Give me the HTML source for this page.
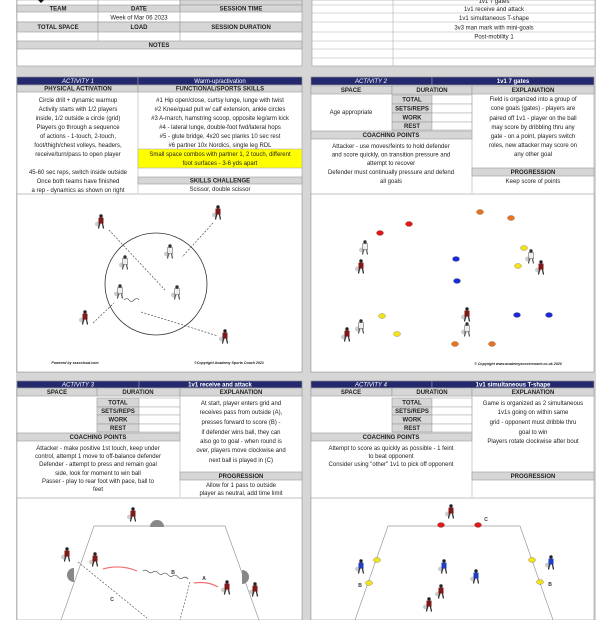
<!DOCTYPE html>
<html><head><meta charset="utf-8"><style>
html,body{margin:0;padding:0;background:#fff;}
svg{display:block;font-family:"Liberation Sans",sans-serif;}
.t{font-size:6px;fill:#222;text-anchor:middle;}
.h{font-size:6px;font-weight:bold;fill:#222;text-anchor:middle;}
.n{font-size:6px;font-style:italic;fill:#fff;text-anchor:middle;}
.g{fill:#d6d6d6;stroke:#9a9a9a;stroke-width:0.6;}
.w{fill:#fff;stroke:#b0b0b0;stroke-width:0.6;}
.nv{fill:#24296e;stroke:#9a9a9a;stroke-width:0.6;}
.cap{font-size:3.6px;font-style:italic;font-weight:bold;fill:#222;text-anchor:middle;}
.lb{font-size:5px;font-weight:bold;fill:#333;text-anchor:middle;}
</style></head><body>
<svg width="612" height="620" viewBox="0 0 612 620">
<defs>
<g id="pr"><ellipse cx="-3" cy="2" rx="3" ry="2.5" fill="#ccc"/><circle cx="0" cy="-6" r="1.7" fill="#222"/><rect x="-2.5" y="-4.4" width="5" height="6" fill="#7d1a1a"/><line x1="-1.5" y1="1.5" x2="-2.5" y2="6.5" stroke="#222" stroke-width="1.2"/><line x1="1.5" y1="1.5" x2="2.5" y2="6.5" stroke="#222" stroke-width="1.2"/></g>
<g id="pw"><ellipse cx="-3" cy="2" rx="3" ry="2.5" fill="#ccc"/><circle cx="0" cy="-6" r="1.7" fill="#333"/><rect x="-2.5" y="-4.4" width="5" height="6" fill="#eee" stroke="#555" stroke-width="0.5"/><line x1="-1.5" y1="1.5" x2="-2.5" y2="6.5" stroke="#444" stroke-width="1.1"/><line x1="1.5" y1="1.5" x2="2.5" y2="6.5" stroke="#444" stroke-width="1.1"/></g>
<g id="pb"><ellipse cx="-3" cy="2" rx="3" ry="2.5" fill="#ccc"/><circle cx="0" cy="-6" r="1.7" fill="#222"/><rect x="-2.5" y="-4.4" width="5" height="6" fill="#1f3fbf"/><line x1="-1.5" y1="1.5" x2="-2.5" y2="6.5" stroke="#222" stroke-width="1.2"/><line x1="1.5" y1="1.5" x2="2.5" y2="6.5" stroke="#222" stroke-width="1.2"/></g>
</defs>
<rect x="16" y="0" width="580" height="620" fill="#d6d6d6"/>

<!-- TOP LEFT -->
<rect x="17" y="0" width="285" height="66" fill="#fff" stroke="#9a9a9a" stroke-width="0.6"/>
<rect x="180" y="0" width="122" height="5" class="g"/>
<line x1="98" y1="0" x2="98" y2="41" stroke="#9a9a9a" stroke-width="0.6"/>
<line x1="180" y1="0" x2="180" y2="41" stroke="#9a9a9a" stroke-width="0.6"/>
<path d="M38 0 L44 0 L41 3 Z" fill="#111"/>
<rect x="17" y="5" width="81" height="7" class="g"/><rect x="98" y="5" width="82" height="7" class="g"/><rect x="180" y="5" width="122" height="7" class="g"/>
<text class="h" x="58" y="10.5">TEAM</text><text class="h" x="139" y="10.5">DATE</text><text class="h" x="241" y="10.5">SESSION TIME</text>
<line x1="17" y1="22" x2="302" y2="22" stroke="#9a9a9a" stroke-width="0.6"/>
<text class="t" x="139" y="19.5">Week of Mar 06 2023</text>
<rect x="17" y="22" width="81" height="10" class="g"/><rect x="98" y="22" width="82" height="10" class="g"/><rect x="180" y="22" width="122" height="10" class="g"/>
<text class="h" x="58" y="29">TOTAL SPACE</text><text class="h" x="139" y="29">LOAD</text><text class="h" x="241" y="29">SESSION DURATION</text>
<rect x="17" y="41" width="285" height="8" class="g"/>
<text class="h" x="159" y="47">NOTES</text>

<!-- TOP RIGHT -->
<rect x="312" y="0" width="283" height="66" fill="#fff" stroke="#9a9a9a" stroke-width="0.6"/>
<line x1="393" y1="0" x2="393" y2="66" stroke="#b0b0b0" stroke-width="0.6"/>
<g stroke="#b0b0b0" stroke-width="0.6"><line x1="312" y1="5" x2="595" y2="5"/><line x1="312" y1="13" x2="595" y2="13"/><line x1="312" y1="22" x2="595" y2="22"/><line x1="312" y1="32" x2="595" y2="32"/><line x1="312" y1="41" x2="595" y2="41"/><line x1="312" y1="49" x2="595" y2="49"/><line x1="312" y1="58" x2="595" y2="58"/></g>
<text class="t" x="494" y="3">1v1 7 gates</text>
<text class="t" x="494" y="11">1v1 receive and attack</text>
<text class="t" x="494" y="20">1v1 simultaneous T-shape</text>
<text class="t" x="494" y="29.5">3v3 man mark with mini-goals</text>
<text class="t" x="494" y="38.5">Post-mobility 1</text>

<!-- ACTIVITY 1 -->
<rect x="17" y="77" width="285" height="295" fill="#fff" stroke="#9a9a9a" stroke-width="0.6"/>
<rect x="17" y="77" width="121" height="8" class="nv"/><rect x="138" y="77" width="164" height="8" class="nv"/>
<text class="n" x="78" y="83">ACTIVITY 1</text><text class="n" x="220" y="83" style="font-style:normal">Warm-up/activation</text>
<rect x="17" y="85" width="121" height="7" class="g"/><rect x="138" y="85" width="164" height="7" class="g"/>
<text class="h" x="78" y="90.5">PHYSICAL ACTIVATION</text><text class="h" x="220" y="90.5">FUNCTIONAL/SPORTS SKILLS</text>
<line x1="138" y1="92" x2="138" y2="193" stroke="#b0b0b0" stroke-width="0.6"/>
<g class="t">
<text x="78" y="102">Circle drill + dynamic warmup</text>
<text x="78" y="111">Activity starts with 1/2 players</text>
<text x="78" y="120">inside, 1/2 outside a circle (grid)</text>
<text x="78" y="129">Players go through a sequence</text>
<text x="78" y="138">of actions - 1-touch, 2-touch,</text>
<text x="78" y="147">foot/thigh/chest volleys, headers,</text>
<text x="78" y="156">receive/turn/pass to open player</text>
<text x="78" y="174">45-60 sec reps, switch inside outside</text>
<text x="78" y="183">Once both teams have finished</text>
<text x="78" y="192">a rep - dynamics as shown on right</text>
<text x="220" y="102">#1 Hip open/close, curtsy lunge, lunge with twist</text>
<text x="220" y="111">#2 Knee/quad pull w/ calf extension,  ankle circles</text>
<text x="220" y="120">#3 A-march, hamstring scoop, opposite leg/arm kick</text>
<text x="220" y="129">#4 - lateral lunge, double-foot fwd/lateral hops</text>
<text x="220" y="138">#5 - glute bridge, 4x20 sec planks 10 sec rest</text>
<text x="220" y="147">#6 partner 10x Nordics, single leg RDL</text>
</g>
<rect x="138" y="149" width="164" height="19" fill="#ffff00" stroke="#b0b0b0" stroke-width="0.6"/>
<text class="t" x="220" y="156">Small space combos with partner 1, 2 touch, different</text>
<text class="t" x="220" y="165">foot surfaces - 3-6 yds apart</text>
<rect x="138" y="177" width="164" height="7" class="g"/>
<text class="h" x="220" y="182.5">SKILLS CHALLENGE</text>
<text class="t" x="220" y="191">Scissor, double scissor</text>
<rect x="17" y="194" width="285" height="178" fill="#fff" stroke="#9a9a9a" stroke-width="0.6"/>
<circle cx="156" cy="284" r="51" fill="none" stroke="#333" stroke-width="0.8"/>
<g stroke="#333" stroke-width="0.6" stroke-dasharray="2,1.5" fill="none">
<line x1="109" y1="230" x2="165" y2="290"/><line x1="213" y1="223" x2="182" y2="257"/><line x1="93" y1="323" x2="114" y2="303"/><line x1="141" y1="312" x2="218" y2="336"/></g>
<path d="M124 300 q3 -3 5 0 t5 0 t5 0" fill="none" stroke="#333" stroke-width="0.6"/>
<use href="#pr" x="101" y="222"/><use href="#pr" x="218" y="213"/><use href="#pw" x="170" y="252"/><use href="#pw" x="125" y="263"/><use href="#pw" x="120" y="292"/><use href="#pw" x="177" y="293"/><use href="#pr" x="85" y="318"/><use href="#pr" x="225" y="337"/>
<text class="cap" x="75" y="364">Powered by sssccloud.com</text>
<text class="cap" x="229" y="364">©Copyright Academy Sports Coach 2021</text>

<!-- ACTIVITY 2 -->
<rect x="311" y="77" width="283" height="295" fill="#fff" stroke="#9a9a9a" stroke-width="0.6"/>
<rect x="311" y="77" width="121" height="8" class="nv"/><rect x="432" y="77" width="162" height="8" class="nv"/>
<text class="n" x="371" y="83">ACTIVITY 2</text><text class="n" x="513" y="83" style="font-style:normal;font-weight:bold">1v1 7 gates</text>
<rect x="311" y="86" width="81" height="8" class="g"/><rect x="392" y="86" width="80" height="8" class="g"/><rect x="472" y="86" width="122" height="8" class="g"/>
<text class="h" x="351" y="92">SPACE</text><text class="h" x="432" y="92">DURATION</text><text class="h" x="533" y="92">EXPLANATION</text>
<rect x="392" y="95" width="40" height="9" class="g"/><rect x="392" y="104" width="40" height="9" class="g"/><rect x="392" y="113" width="40" height="9" class="g"/><rect x="392" y="122" width="40" height="8" class="g"/>
<rect x="432" y="95" width="40" height="9" class="w"/><rect x="432" y="104" width="40" height="9" class="w"/><rect x="432" y="113" width="40" height="9" class="w"/><rect x="432" y="122" width="40" height="8" class="w"/>
<text class="h" x="412" y="101.5">TOTAL</text><text class="h" x="412" y="110.5">SETS/REPS</text><text class="h" x="412" y="119.5">WORK</text><text class="h" x="412" y="128">REST</text>
<text class="t" x="351" y="114">Age appropriate</text>
<rect x="311" y="131" width="161" height="8" class="g"/><text class="h" x="391" y="137">COACHING POINTS</text>
<line x1="472" y1="94" x2="472" y2="193" stroke="#b0b0b0" stroke-width="0.6"/>
<g class="t">
<text x="391" y="148">Attacker - use moves/feints to hold defender</text>
<text x="391" y="156.5">and score quickly, on transition pressure and</text>
<text x="391" y="165">attempt to recover</text>
<text x="391" y="174">Defender must continually pressure and defend</text>
<text x="391" y="183">all goals</text>
<text x="533" y="101">Field is organized into a group of</text>
<text x="533" y="110">cone goals (gates) - players are</text>
<text x="533" y="120">paired off 1v1 - player on the ball</text>
<text x="533" y="129">may score by dribbling thru any</text>
<text x="533" y="138">gate - on a point, players switch</text>
<text x="533" y="147">roles, new attacker may score on</text>
<text x="533" y="156">any other goal</text>
<text x="533" y="183">Keep score of points</text>
</g>
<rect x="472" y="168" width="122" height="8" class="g"/><text class="h" x="533" y="174">PROGRESSION</text>
<rect x="311" y="194" width="283" height="178" fill="#fff" stroke="#9a9a9a" stroke-width="0.6"/>
<g stroke="#555" stroke-width="0.3">
<ellipse cx="480" cy="212" rx="3.5" ry="2.5" fill="#e8731e"/><ellipse cx="511" cy="218" rx="3.5" ry="2.5" fill="#e8731e"/>
<ellipse cx="409" cy="224" rx="3.5" ry="2.5" fill="#e01818"/><ellipse cx="380" cy="233" rx="3.5" ry="2.5" fill="#e01818"/>
<ellipse cx="456" cy="259" rx="3.5" ry="2.5" fill="#1a2ad8"/><ellipse cx="457" cy="281" rx="3.5" ry="2.5" fill="#1a2ad8"/>
<ellipse cx="524" cy="248" rx="3.5" ry="2.5" fill="#f2e21a"/><ellipse cx="518" cy="266" rx="3.5" ry="2.5" fill="#f2e21a"/>
<ellipse cx="382" cy="316" rx="3.5" ry="2.5" fill="#f2e21a"/><ellipse cx="397" cy="334" rx="3.5" ry="2.5" fill="#f2e21a"/>
<ellipse cx="517" cy="315" rx="3.5" ry="2.5" fill="#1a2ad8"/><ellipse cx="549" cy="315" rx="3.5" ry="2.5" fill="#1a2ad8"/>
<ellipse cx="455" cy="344" rx="3.5" ry="2.5" fill="#e8731e"/><ellipse cx="492" cy="344" rx="3.5" ry="2.5" fill="#e8731e"/>
</g>
<use href="#pw" x="365" y="248"/><use href="#pr" x="361" y="267"/><use href="#pw" x="531" y="257"/><use href="#pr" x="541" y="268"/><use href="#pr" x="467" y="315"/><use href="#pw" x="467" y="330"/><use href="#pw" x="361" y="327"/><use href="#pr" x="347" y="335"/>
<text class="cap" x="518" y="365">© Copyright www.academysoccercoach.co.uk 2020</text>

<!-- ACTIVITY 3 -->
<rect x="17" y="381" width="285" height="239" fill="#fff" stroke="#9a9a9a" stroke-width="0.6"/>
<rect x="17" y="381" width="122" height="7" class="nv"/><rect x="139" y="381" width="163" height="7" class="nv"/>
<text class="n" x="78" y="386.5">ACTIVITY 3</text><text class="n" x="220" y="386.5" style="font-style:normal;font-weight:bold">1v1 receive and attack</text>
<rect x="17" y="388" width="80" height="8" class="g"/><rect x="97" y="388" width="83" height="8" class="g"/><rect x="180" y="388" width="122" height="8" class="g"/>
<text class="h" x="57" y="394">SPACE</text><text class="h" x="138" y="394">DURATION</text><text class="h" x="241" y="394">EXPLANATION</text>
<rect x="97" y="398" width="42" height="9" class="g"/><rect x="97" y="407" width="42" height="8" class="g"/><rect x="97" y="415" width="42" height="9" class="g"/><rect x="97" y="424" width="42" height="8" class="g"/>
<rect x="139" y="398" width="41" height="9" class="w"/><rect x="139" y="407" width="41" height="8" class="w"/><rect x="139" y="415" width="41" height="9" class="w"/><rect x="139" y="424" width="41" height="8" class="w"/>
<text class="h" x="118" y="404.5">TOTAL</text><text class="h" x="118" y="413">SETS/REPS</text><text class="h" x="118" y="421.5">WORK</text><text class="h" x="118" y="430">REST</text>
<rect x="17" y="433" width="163" height="8" class="g"/><text class="h" x="98" y="439">COACHING POINTS</text>
<line x1="180" y1="396" x2="180" y2="497" stroke="#b0b0b0" stroke-width="0.6"/>
<g class="t">
<text x="98" y="450">Attacker - make positive 1st touch, keep under</text>
<text x="98" y="458">control, attempt 1 move to off-balance defender</text>
<text x="98" y="466">Defender - attempt to press and remain goal</text>
<text x="98" y="475">side, look for moment to win ball</text>
<text x="98" y="483">Passer - play to rear foot with pace, ball to</text>
<text x="98" y="491">feet</text>
<text x="241" y="405">At start, player enters grid and</text>
<text x="241" y="414">receives pass from outside (A),</text>
<text x="241" y="424">presses forward to score (B) -</text>
<text x="241" y="434">if defender wins ball, they can</text>
<text x="241" y="443">also go to goal - when round is</text>
<text x="241" y="452">over, players move clockwise and</text>
<text x="241" y="462">next ball is played in (C)</text>
<text x="241" y="487">Allow for 1 pass to outside</text>
<text x="241" y="495">player as neutral, add time limit</text>
</g>
<rect x="180" y="472" width="122" height="8" class="g"/><text class="h" x="241" y="478">PROGRESSION</text>
<rect x="17" y="498" width="285" height="122" fill="#fff" stroke="#9a9a9a" stroke-width="0.6"/>
<path d="M61 620 L94 526 L225 526 L259 620" fill="none" stroke="#999" stroke-width="0.7"/>
<path d="M150 527 a7 7 0 0 1 14 0 Z" fill="#888"/><path d="M74 568 a7 7 0 0 0 0 14 Z" fill="#888"/><path d="M242 570 a7 7 0 0 1 0 14 Z" fill="#888"/>
<path d="M103 569 q17 -5 34 2" fill="none" stroke="#f07070" stroke-width="1.2"/><path d="M218 587 q-10 -6 -24 -4" fill="none" stroke="#f07070" stroke-width="1.2"/>
<path d="M143 571 q2.5 -2 5 0.5 t5 0.5 t5 0.8 t5 1 t5 1 t5 1 t5 1 t5 1 t5 1.2" fill="none" stroke="#444" stroke-width="0.6"/>
<g stroke="#444" stroke-width="0.6" stroke-dasharray="2,1.5"><line x1="78" y1="562" x2="147" y2="618"/><line x1="190" y1="582" x2="180" y2="620"/></g>
<text class="lb" x="173" y="574">B</text><text class="lb" x="204" y="580">A</text><text class="lb" x="112" y="601">C</text>
<use href="#pr" x="133" y="515"/><use href="#pr" x="67" y="555"/><use href="#pr" x="95" y="560"/><use href="#pr" x="227" y="588"/><use href="#pr" x="255" y="590"/>

<!-- ACTIVITY 4 -->
<rect x="311" y="381" width="283" height="239" fill="#fff" stroke="#9a9a9a" stroke-width="0.6"/>
<rect x="311" y="381" width="121" height="7" class="nv"/><rect x="432" y="381" width="162" height="7" class="nv"/>
<text class="n" x="371" y="386.5">ACTIVITY 4</text><text class="n" x="513" y="386.5" style="font-style:normal;font-weight:bold">1v1 simultaneous T-shape</text>
<rect x="311" y="388" width="81" height="8" class="g"/><rect x="392" y="388" width="80" height="8" class="g"/><rect x="472" y="388" width="122" height="8" class="g"/>
<text class="h" x="351" y="394">SPACE</text><text class="h" x="432" y="394">DURATION</text><text class="h" x="533" y="394">EXPLANATION</text>
<rect x="392" y="398" width="40" height="9" class="g"/><rect x="392" y="407" width="40" height="8" class="g"/><rect x="392" y="415" width="40" height="9" class="g"/><rect x="392" y="424" width="40" height="8" class="g"/>
<rect x="432" y="398" width="40" height="9" class="w"/><rect x="432" y="407" width="40" height="8" class="w"/><rect x="432" y="415" width="40" height="9" class="w"/><rect x="432" y="424" width="40" height="8" class="w"/>
<text class="h" x="412" y="404.5">TOTAL</text><text class="h" x="412" y="413">SETS/REPS</text><text class="h" x="412" y="421.5">WORK</text><text class="h" x="412" y="430">REST</text>
<rect x="311" y="433" width="161" height="8" class="g"/><text class="h" x="391" y="439">COACHING POINTS</text>
<line x1="472" y1="396" x2="472" y2="497" stroke="#b0b0b0" stroke-width="0.6"/>
<g class="t">
<text x="391" y="450">Attempt to score as quickly as possible - 1 feint</text>
<text x="391" y="458">to beat opponent</text>
<text x="391" y="466">Consider using "other" 1v1 to pick off opponent</text>
<text x="533" y="405">Game is organized as 2 simultaneous</text>
<text x="533" y="414">1v1s going on within same</text>
<text x="533" y="424">grid - opponent must dribble thru</text>
<text x="533" y="434">goal to win</text>
<text x="533" y="443">Players rotate clockwise after bout</text>
</g>
<rect x="472" y="472" width="122" height="8" class="g"/><text class="h" x="533" y="478">PROGRESSION</text>
<rect x="311" y="498" width="283" height="122" fill="#fff" stroke="#9a9a9a" stroke-width="0.6"/>
<path d="M355 620 L388 526 L520 526 L553 620" fill="none" stroke="#999" stroke-width="0.7"/>
<g stroke="#555" stroke-width="0.3">
<ellipse cx="441" cy="525" rx="3.5" ry="2.5" fill="#e01818"/><ellipse cx="478" cy="525" rx="3.5" ry="2.5" fill="#e01818"/>
<ellipse cx="377" cy="560" rx="3.5" ry="2.5" fill="#f2e21a"/><ellipse cx="369" cy="583" rx="3.5" ry="2.5" fill="#f2e21a"/>
<ellipse cx="532" cy="560" rx="3.5" ry="2.5" fill="#f2e21a"/><ellipse cx="540" cy="582" rx="3.5" ry="2.5" fill="#f2e21a"/>
</g>
<text class="lb" x="486" y="521">C</text><text class="lb" x="550" y="586">B</text><text class="lb" x="360" y="587">B</text>
<use href="#pb" x="361" y="567"/><use href="#pb" x="444" y="567"/><use href="#pb" x="476" y="577"/><use href="#pb" x="551" y="563"/>
<use href="#pr" x="451" y="512"/><use href="#pr" x="441" y="592"/><use href="#pr" x="429" y="605"/>
</svg>
</body></html>
